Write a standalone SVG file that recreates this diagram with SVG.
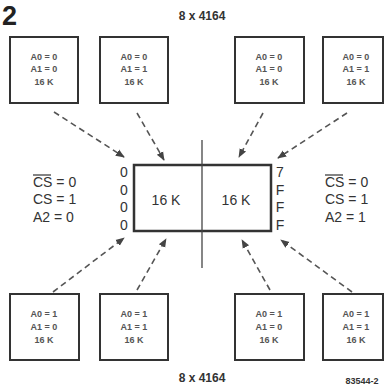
<svg xmlns="http://www.w3.org/2000/svg" width="385" height="389" viewBox="0 0 385 389">
<defs>
<style>
.box{fill:#fff;stroke:#333;stroke-width:2}
.lbl{font-family:"Liberation Sans",Arial,sans-serif;font-size:9px;fill:#555;text-anchor:middle;font-weight:bold}
.big{font-family:"Liberation Sans",Arial,sans-serif;font-size:14px;fill:#333}
.ttl{font-family:"Liberation Sans",Arial,sans-serif;font-size:12px;fill:#333;text-anchor:middle;font-weight:bold}
.con{fill:none;stroke:#555;stroke-width:1.6;stroke-dasharray:6 4;marker-end:url(#ah)}
</style>
<marker id="ah" viewBox="0 0 10 10" refX="9" refY="5" markerWidth="9" markerHeight="9" markerUnits="userSpaceOnUse" orient="auto">
<path d="M0,1 L10,5 L0,9 Z" fill="#444"/>
</marker>
</defs>
<rect width="385" height="389" fill="#fff"/>
<text x="2" y="25" font-family="Liberation Sans,Arial,sans-serif" font-size="27" font-weight="bold" fill="#222">2</text>
<text class="ttl" x="202" y="20">8 x 4164</text>
<text class="ttl" x="202" y="382">8 x 4164</text>
<text x="362" y="384" font-family="Liberation Sans,Arial,sans-serif" font-size="9" font-weight="bold" fill="#333" text-anchor="middle">83544-2</text>

<g id="t1"><rect class="box" x="10" y="37" width="68" height="66"/><text class="lbl" x="44" y="60">A0 = 0</text><text class="lbl" x="44" y="72">A1 = 0</text><text class="lbl" x="44" y="85">16 K</text></g>
<g id="t2"><rect class="box" x="100" y="37" width="68" height="66"/><text class="lbl" x="134" y="60">A0 = 0</text><text class="lbl" x="134" y="72">A1 = 1</text><text class="lbl" x="134" y="85">16 K</text></g>
<g id="t3"><rect class="box" x="235" y="37" width="69" height="66"/><text class="lbl" x="269" y="60">A0 = 0</text><text class="lbl" x="269" y="72">A1 = 0</text><text class="lbl" x="269" y="85">16 K</text></g>
<g id="t4"><rect class="box" x="323" y="37" width="60" height="66"/><text class="lbl" x="356" y="60">A0 = 0</text><text class="lbl" x="356" y="72">A1 = 1</text><text class="lbl" x="356" y="85">16 K</text></g>

<g id="b1"><rect class="box" x="10" y="294" width="69" height="66"/><text class="lbl" x="44" y="317">A0 = 1</text><text class="lbl" x="44" y="330">A1 = 0</text><text class="lbl" x="44" y="343">16 K</text></g>
<g id="b2"><rect class="box" x="100" y="294" width="68" height="66"/><text class="lbl" x="134" y="317">A0 = 1</text><text class="lbl" x="134" y="330">A1 = 1</text><text class="lbl" x="134" y="343">16 K</text></g>
<g id="b3"><rect class="box" x="235" y="294" width="69" height="66"/><text class="lbl" x="269" y="317">A0 = 1</text><text class="lbl" x="269" y="330">A1 = 0</text><text class="lbl" x="269" y="343">16 K</text></g>
<g id="b4"><rect class="box" x="323" y="294" width="60" height="66"/><text class="lbl" x="356" y="317">A0 = 1</text><text class="lbl" x="356" y="330">A1 = 1</text><text class="lbl" x="356" y="343">16 K</text></g>

<g id="center">
<rect x="134" y="165" width="137" height="66" fill="#fff" stroke="#333" stroke-width="2.5"/>
<line x1="202" y1="140" x2="202" y2="268" stroke="#444" stroke-width="1.3"/>
<text class="big" x="166" y="205" text-anchor="middle">16 K</text>
<text class="big" x="236" y="205" text-anchor="middle">16 K</text>
<g class="big" text-anchor="middle" font-size="12">
<text x="124" y="177">0</text><text x="124" y="195">0</text><text x="124" y="212">0</text><text x="124" y="230">0</text>
<text x="280" y="177">7</text><text x="280" y="195">F</text><text x="280" y="212">F</text><text x="280" y="230">F</text>
</g>
</g>

<g id="left-labels" class="big">
<text x="33" y="187">CS = 0</text>
<line x1="33" y1="175" x2="51" y2="175" stroke="#333" stroke-width="1.2"/>
<text x="33" y="204">CS = 1</text>
<text x="33" y="222">A2 = 0</text>
</g>
<g id="right-labels" class="big">
<text x="325" y="187">CS = 0</text>
<line x1="325" y1="175" x2="343" y2="175" stroke="#333" stroke-width="1.2"/>
<text x="325" y="204">CS = 1</text>
<text x="325" y="222">A2 = 1</text>
</g>

<g id="connectors">
<line class="con" x1="54" y1="112" x2="124" y2="157"/>
<line class="con" x1="137" y1="113" x2="164" y2="160"/>
<line class="con" x1="263" y1="113" x2="239" y2="157"/>
<line class="con" x1="347" y1="113" x2="278" y2="158"/>
<line class="con" x1="53" y1="292" x2="124" y2="238"/>
<line class="con" x1="137" y1="290" x2="166" y2="239"/>
<line class="con" x1="270" y1="290" x2="242" y2="240"/>
<line class="con" x1="352" y1="292" x2="281" y2="240"/>
</g>
</svg>
